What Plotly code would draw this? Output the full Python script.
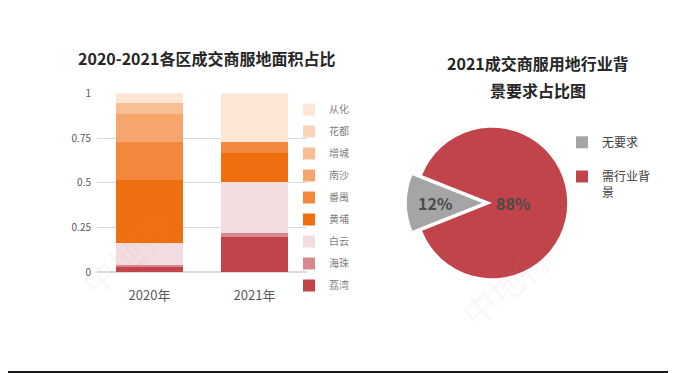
import plotly.graph_objects as go

W, H = 676, 373
OFF = 8  # page body margin

years = ["2020年", "2021年"]
districts = ["荔湾", "海珠", "白云", "黄埔", "番禺", "南沙", "增城", "花都", "从化"]
share_2020 = [0.030, 0.010, 0.125, 0.350, 0.215, 0.155, 0.062, 0.000, 0.053]
share_2021 = [0.195, 0.025, 0.283, 0.165, 0.060, 0.000, 0.000, 0.000, 0.272]
district_colors = ["#C0444A", "#D9878C", "#F3DDDE", "#EF6F10", "#F3883C",
                   "#F6A56C", "#F8BF95", "#FAD4B8", "#FCE6D6"]

pie_labels = ["无要求<br>&nbsp;", "需行业背<br>景"]
pie_values = [12, 88]
pie_colors = ["#A5A5A5", "#C0444A"]

y_ticks = [0, 0.25, 0.5, 0.75, 1]
y_ticktext = ["0", "0.25", "0.5", "0.75", "1"]


def px(x):
    return (x - OFF) / W


def py(y):
    return 1 - (y - OFF) / H


font = "Noto Sans CJK SC"

fig = go.Figure()

n = len(districts)
for i, name in enumerate(districts):
    fig.add_trace(go.Bar(
        x=years, y=[share_2020[i], share_2021[i]], name=name,
        marker=dict(color=district_colors[i], line=dict(width=0)),
        legendgroup=name, legend="legend", legendrank=n - i,
        hoverinfo="name+y",
    ))

fig.add_trace(go.Pie(
    labels=pie_labels, values=pie_values, sort=False,
    direction="counterclockwise", rotation=-111.6,
    pull=[0.13, 0],
    marker=dict(colors=pie_colors, line=dict(color="white", width=0)),
    textinfo="none",
    domain=dict(x=[px(492 - 85), px(492 + 85)], y=[py(203 + 85), py(203 - 85)]),
    legend="legend2",
    showlegend=True,
))

# percentage labels of the pie, placed like the reference
total = sum(pie_values)
pct_pos = [(435, 203), (513, 203)]
pct_annotations = [
    dict(text="<b>%d%%</b>" % round(100 * v / total), x=px(p[0]), y=py(p[1]),
         xref="paper", yref="paper", showarrow=False,
         xanchor="center", yanchor="middle",
         font=dict(size=16, color="#4A4A4A", family=font))
    for v, p in zip(pie_values, pct_pos)
]

fig.update_layout(
    width=W, height=H,
    margin=dict(l=0, r=0, t=0, b=0, autoexpand=False),
    paper_bgcolor="white", plot_bgcolor="white",
    barmode="stack", bargap=0.36,
    font=dict(family=font, color="#595959"),
    showlegend=True,
    xaxis=dict(domain=[px(97), px(307)], showgrid=False, showline=False,
               ticks="", tickfont=dict(size=13, color="#595959"),
               ticklabelstandoff=14,
               fixedrange=True, automargin=False),
    yaxis=dict(domain=[py(272.3), py(93.3)], range=[0, 1],
               tickvals=y_ticks, ticktext=y_ticktext,
               tickfont=dict(size=10, color="#595959"),
               showgrid=True, gridcolor="#D9D9D9", gridwidth=1,
               zeroline=True, zerolinecolor="#D9D9D9", ticks="",
               showline=False, ticklabelstandoff=5, automargin=False),
    legend=dict(x=px(289), y=py(95), xanchor="left", yanchor="top",
                traceorder="grouped", tracegroupgap=3,
                font=dict(size=10, color="#7F7F7F", family=font),
                itemwidth=30, bgcolor="rgba(0,0,0,0)"),
    legend2=dict(x=px(562), y=py(128), xanchor="left", yanchor="top",
                 tracegroupgap=0, valign="top",
                 font=dict(size=12, color="#404040", family=font),
                 itemwidth=30, bgcolor="rgba(0,0,0,0)"),
    annotations=[
        dict(text="<b>2020-2021各区成交商服地面积占比</b>", x=px(206), y=py(58),
             xref="paper", yref="paper", showarrow=False,
             xanchor="center", yanchor="middle",
             font=dict(size=16, color="#262626", family=font)),
        dict(text="<b>2021成交商服用地行业背</b>", x=px(538), y=py(63),
             xref="paper", yref="paper", showarrow=False,
             xanchor="center", yanchor="middle",
             font=dict(size=16, color="#262626", family=font)),
        dict(text="<b>景要求占比图</b>", x=px(538), y=py(90),
             xref="paper", yref="paper", showarrow=False,
             xanchor="center", yanchor="middle",
             font=dict(size=16, color="#262626", family=font)),
        dict(text="中地行", x=px(125), y=py(255), xref="paper", yref="paper",
             showarrow=False, textangle=-40,
             xanchor="center", yanchor="middle",
             font=dict(size=34, color="rgba(225,120,120,0.08)", family=font)),
        dict(text="中地行", x=px(505), y=py(285), xref="paper", yref="paper",
             showarrow=False, textangle=-40,
             xanchor="center", yanchor="middle",
             font=dict(size=34, color="rgba(225,120,120,0.08)", family=font)),
    ] + pct_annotations,
    shapes=[
        dict(type="rect", xref="paper", yref="paper", x0=0, x1=1,
             y0=py(373), y1=py(371), fillcolor="#1A1A1A", line=dict(width=0)),
    ],
)

fig.write_html("out.html")
